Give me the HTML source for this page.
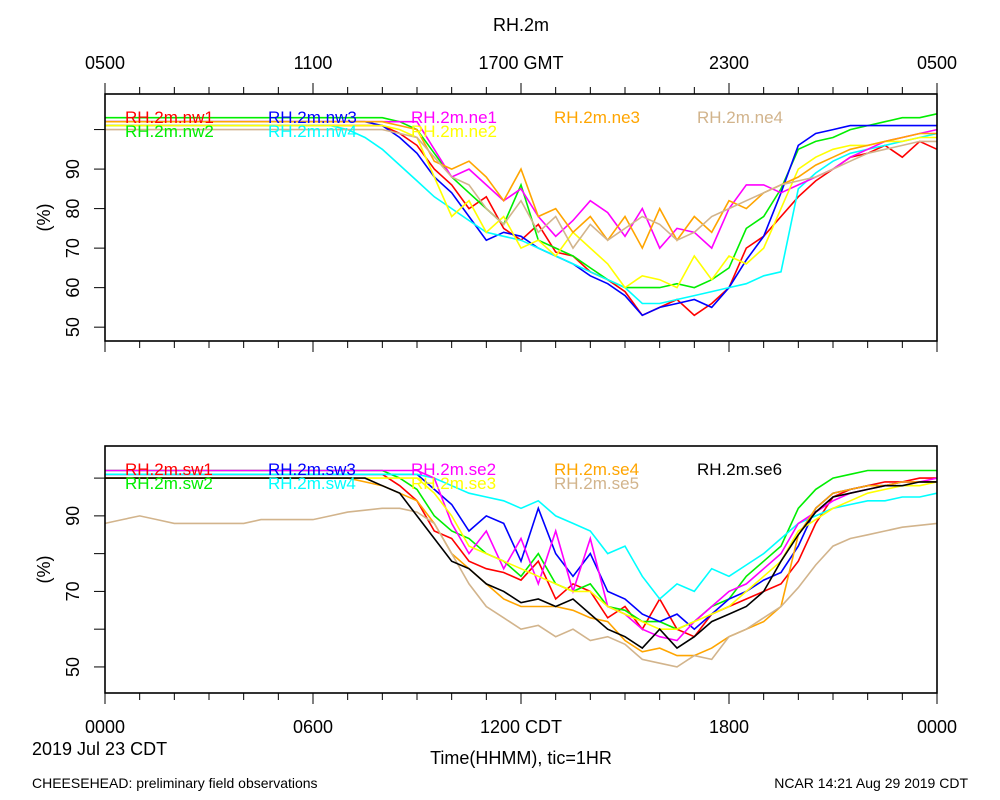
<!DOCTYPE html>
<html><head><meta charset="utf-8"><style>
body{margin:0;background:#fff;}
svg{display:block;font-family:"Liberation Sans",sans-serif;}
</style></head><body>
<svg id="chart" width="1000" height="800"></svg>
<script>
const hours = Array.from({length:49},(_,i)=>i/2);
const topNames = ["RH.2m.nw1","RH.2m.nw2","RH.2m.nw3","RH.2m.nw4","RH.2m.ne1","RH.2m.ne2","RH.2m.ne3","RH.2m.ne4"];
const botNames = ["RH.2m.sw1","RH.2m.sw2","RH.2m.sw3","RH.2m.sw4","RH.2m.se2","RH.2m.se3","RH.2m.se4","RH.2m.se5","RH.2m.se6"];
const nw1 = [101,101,101,101,101,101,101,101,101,101,101,101,101,101,101,101,101,99,96,90,86,80,83,75,72,76,69,68,64,62,59,53,55,57,53,56,60,70,73,78,83,87,90,93,94,96,93,97,95];
const nw2 = [103,103,103,103,103,103,103,103,103,103,103,103,103,103,103,103,103,102,100,94,88,84,80,76,86,72,70,68,65,62,60,60,60,61,60,62,65,75,78,85,95,97,98,100,101,102,103,103,104];
const nw3 = [102,102,102,102,102,102,102,102,102,102,102,102,102,102,102,102,101,98,94,88,84,78,72,74,73,70,68,66,63,61,58,53,55,56,57,55,60,67,73,84,96,99,100,101,101,101,101,101,101];
const nw4 = [101,101,101,101,101,101,101,101,101,101,101,101,101,101,100,98,95,91,87,83,80,77,74,73,72,70,68,66,64,62,60,56,56,57,58,59,60,61,63,64,85,89,92,94,95,96,97,98,99];
const ne1 = [102,102,102,102,102,102,102,102,102,102,102,102,102,102,102,102,102,102,102,95,88,90,86,82,85,78,73,77,82,79,73,80,70,75,74,70,80,86,86,84,86,88,90,93,95,97,98,99,100];
const ne2 = [101,101,101,101,101,101,101,101,101,101,101,101,101,101,101,101,101,100,98,88,78,82,74,78,70,72,68,74,70,66,60,63,62,60,68,62,68,66,70,80,90,93,95,96,96,97,97,98,98];
const ne3 = [102,102,102,102,102,102,102,102,102,102,102,102,102,102,102,102,102,101,100,92,90,92,88,82,90,78,80,74,78,72,78,70,80,72,78,74,82,80,84,86,88,91,93,95,96,97,98,99,99];
const ne4 = [100,100,100,100,100,100,100,100,100,100,100,100,100,100,100,100,100,99,98,93,88,86,80,76,82,74,78,70,76,72,75,78,76,72,74,78,80,82,84,86,87,88,90,92,94,95,96,97,97];
const sw1 = [101,101,101,101,101,101,101,101,101,101,101,101,101,101,101,101,101,98,94,86,84,78,76,75,73,78,68,72,70,63,66,60,68,60,58,64,66,68,70,72,78,88,95,97,98,99,99,100,100];
const sw2 = [102,102,102,102,102,102,102,102,102,102,102,102,102,102,102,102,102,100,97,90,86,84,80,78,74,80,72,70,72,66,65,62,62,60,62,66,68,74,78,82,92,97,100,101,102,102,102,102,102];
const sw3 = [101,101,101,101,101,101,101,101,101,101,101,101,101,101,101,101,101,101,101,97,93,86,90,88,78,92,80,74,80,70,68,64,62,64,60,64,68,70,73,75,82,92,96,97,98,98,99,99,99];
const sw4 = [101,101,101,101,101,101,101,101,101,101,101,101,101,101,101,101,101,101,101,100,98,96,95,94,92,94,90,88,86,80,82,74,68,72,70,76,74,77,80,84,88,90,92,93,94,94,95,95,96];
const se2 = [102,102,102,102,102,102,102,102,102,102,102,102,102,102,102,102,102,102,102,100,88,80,86,76,84,72,86,70,84,66,64,60,58,57,62,66,70,72,76,80,88,91,94,96,97,98,99,99,100];
const se3 = [100,100,100,100,100,100,100,100,100,100,100,100,100,100,100,100,100,100,100,96,90,82,80,78,76,74,72,70,70,66,64,62,60,60,62,64,66,70,74,78,86,89,92,94,96,97,98,98,99];
const se4 = [100,100,100,100,100,100,100,100,100,100,100,100,100,100,100,99,98,96,94,88,80,76,72,68,66,66,66,65,63,62,57,54,55,53,53,55,58,60,62,66,85,92,96,97,98,98,99,99,99];
const se5 = [88,89,90,89,88,88,88,88,88,89,89,89,89,90,91,91.5,92,92,91,88,80,72,66,63,60,61,58,60,57,58,56,52,51,50,53,52,58,60,63,66,71,77,82,84,85,86,87,87.5,88];
const se6 = [100,100,100,100,100,100,100,100,100,100,100,100,100,100,100,100,98,96,90,84,78,76,72,70,67,68,66,68,64,60,58,55,60,55,58,62,64,66,70,78,85,91,95,96,97,98,98,99,99];
const topSeries = [nw1,nw2,nw3,nw4,ne1,ne2,ne3,ne4];
const botSeries = [sw1,sw2,sw3,sw4,se2,se3,se4,se5,se6];
const topColors = ["#ff0000","#00ee00","#0000ff","#00ffff","#ff00ff","#ffff00","#ffa500","#d2b48c"];
const botColors = ["#ff0000","#00ee00","#0000ff","#00ffff","#ff00ff","#ffff00","#ffa500","#d2b48c","#000000"];
const topXLabels = ["0500","1100","1700 GMT","2300","0500"];
const botXLabels = ["0000","0600","1200 CDT","1800","0000"];
const topYTicks = [50,60,70,80,90,100];
const topYLabels = [50,60,70,80,90];
const botYTicks = [50,60,70,80,90,100];
const botYLabels = [50,70,90];
// legend slots [column,row] per series
const topLegendSlots = [[0,0],[0,1],[1,0],[1,1],[2,0],[2,1],[3,0],[4,0]];
const botLegendSlots = [[0,0],[0,1],[1,0],[1,1],[2,0],[2,1],[3,0],[3,1],[4,0]];

const NS="http://www.w3.org/2000/svg";
const svg=document.getElementById('chart');
function mk(tag,attrs,parent){const e=document.createElementNS(NS,tag);for(const k in attrs)e.setAttribute(k,attrs[k]);(parent||svg).appendChild(e);return e;}
const X0=105,X1=937;
const xs=h=>X0+(X1-X0)*h/24;

function panel(top,bot,vTop,vBot,series,colors,names,slots,yTicks,yLabels,prefix,xLabels,xLabelY,ticksUp){
  const ys=v=>bot-(v-vBot)*(bot-top)/(vTop-vBot);
  const g=mk('g',{});
  
  
  series.forEach((s,i)=>{
    const d=s.map((v,j)=>(j?'L':'M')+xs(hours[j]).toFixed(1)+','+ys(v).toFixed(1)).join('');
    const p=mk('path',{d:d,fill:'none',stroke:colors[i],'stroke-width':1.6},g);
    
    
  });
  names.forEach((n,i)=>{
    const lx=125+slots[i][0]*143, ly=top+29+slots[i][1]*14;
    const t=mk('text',{x:lx,y:ly,fill:colors[i],'font-size':17},g);
    t.textContent=n;
    
    
  });
  const r=mk('rect',{x:X0,y:top,width:X1-X0,height:bot-top,fill:'none',stroke:'#000','stroke-width':1.6},g);
  
  
  yTicks.forEach(v=>{mk('line',{x1:X0-11,x2:X0,y1:ys(v),y2:ys(v),stroke:'#000','stroke-width':1},g);});
  yLabels.forEach(v=>{
    const t=mk('text',{x:0,y:0,transform:`translate(79,${ys(v)}) rotate(-90)`,'text-anchor':'middle','font-size':18},g);
    t.textContent=v;
    
    
  });
  const yt=mk('text',{x:0,y:0,transform:`translate(50,${(top+bot)/2}) rotate(-90)`,'text-anchor':'middle','font-size':18},g);
  yt.textContent='(%)';
  
  
  for(let h=0;h<=24;h++){
    const len=h%6===0?11:7;
    mk('line',{x1:xs(h),x2:xs(h),y1:bot,y2:bot+len,stroke:'#000','stroke-width':1},g);
    if(ticksUp) mk('line',{x1:xs(h),x2:xs(h),y1:top,y2:top-len,stroke:'#000','stroke-width':1},g);
  }
  xLabels.forEach((l,i)=>{
    const t=mk('text',{x:xs(i*6),y:xLabelY,'text-anchor':'middle','font-size':18},g);
    t.textContent=l;
    
    
  });
}
panel(94,341,109,46.5,topSeries,topColors,topNames,topLegendSlots,topYTicks,topYLabels,'top',topXLabels,69,true);
panel(446,693,108.5,43.1,botSeries,botColors,botNames,botLegendSlots,botYTicks,botYLabels,'bottom',botXLabels,733,false);

function txt(x,y,s,size,anchor,name){const t=mk('text',{x:x,y:y,'font-size':size,'text-anchor':anchor});t.textContent=s;}
txt(521,31,'RH.2m',18,'middle','chart-title');
txt(32,755,'2019 Jul 23 CDT',18,'start','date-label');
txt(521,764,'Time(HHMM), tic=1HR',18,'middle','x-axis-title');
txt(32,788,'CHEESEHEAD: preliminary field observations',14,'start','footer-left');
txt(968,788,'NCAR 14:21 Aug 29 2019 CDT',14,'end','footer-right');
</script>
</body></html>
